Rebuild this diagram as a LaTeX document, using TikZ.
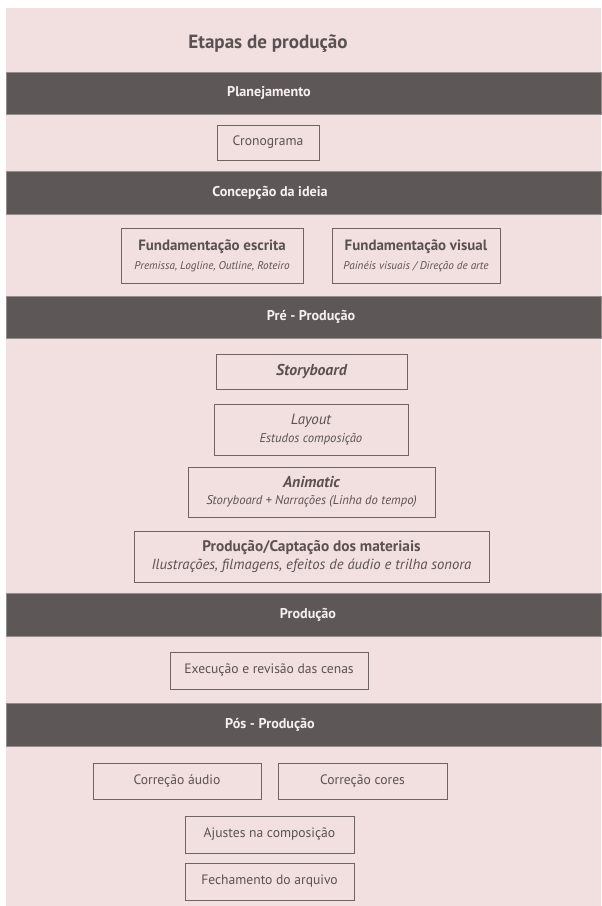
\documentclass[tikz,border=0pt]{standalone}
\usepackage{fontspec}
\setmainfont{PT Sans}
\definecolor{bgpink}{RGB}{242,223,224}
\definecolor{bardark}{RGB}{93,87,87}
\definecolor{baredge}{RGB}{150,140,140}
\definecolor{txtdark}{RGB}{90,82,82}
\definecolor{boxline}{RGB}{110,100,100}
\definecolor{bartxt}{RGB}{248,240,240}
\newcommand{\fsTitle}{\fontsize{14.3}{17}\selectfont}
\newcommand{\fsBar}{\fontsize{10.6}{12}\selectfont}
\newcommand{\fsMain}{\fontsize{10.2}{13}\selectfont}
\newcommand{\fsHead}{\fontsize{11.2}{13}\selectfont}
\newcommand{\fsSub}{\fontsize{8.4}{10}\selectfont}
\newcommand{\fsSubB}{\fontsize{9.5}{11}\selectfont}
\begin{document}
\begin{tikzpicture}[x=0.75pt,y=-0.75pt,
  bar/.style={fill=bardark,draw=baredge,line width=0.5pt,inner sep=0pt,minimum width=595*0.75pt},
  bartext/.style={text=bartxt,font=\fsBar\bfseries,inner sep=0pt},
  box/.style={draw=boxline,line width=0.75pt,fill=bgpink,inner sep=0pt,text=txtdark,align=center},
  ttl/.style={text=txtdark,font=\fsTitle\bfseries,inner sep=0pt}]
\useasboundingbox (0,0) rectangle (601,906);
\fill[white] (0,0) rectangle (601,906);
\fill[bgpink] (6,8) rectangle (601,906);

\node[ttl] (title) at (268,44) {Etapas de produção};

% bars
\node[bar,minimum height=42*0.75pt] (b1) at (303.5,93) {};
\node[bar,minimum height=43*0.75pt] (b2) at (303.5,192.5) {};
\node[bar,minimum height=42*0.75pt] (b3) at (303.5,317) {};
\node[bar,minimum height=43*0.75pt] (b4) at (303.5,614.5) {};
\node[bar,minimum height=43*0.75pt] (b5) at (303.5,724.5) {};
\node[bartext] (t1) at (269,93) {Planejamento};
\node[bartext] (t2) at (270,192.5) {Concepção da ideia};
\node[bartext] (t3) at (311,317) {Pré - Produção};
\node[bartext] (t4) at (308,614.5) {Produção};
\node[bartext] (t5) at (270,724.5) {Pós - Produção};

% boxes
\node[box,minimum width=102*0.75pt,minimum height=35*0.75pt] (crono) at (268,142.5) {\fsMain Cronograma};
\node[box,minimum width=182*0.75pt,minimum height=55*0.75pt] (fe) at (212,255.5)
  {{\fsHead\bfseries Fundamentação escrita}\\[2pt]{\fsSub\itshape Premissa, Logline, Outline, Roteiro}};
\node[box,minimum width=168*0.75pt,minimum height=55*0.75pt] (fv) at (416,255.5)
  {{\fsHead\bfseries Fundamentação visual}\\[2pt]{\fsSub\itshape Painéis visuais / Direção de arte}};
\node[box,minimum width=191*0.75pt,minimum height=35*0.75pt] (sb) at (311.5,371.5)
  {\fontsize{11.8}{13}\selectfont\bfseries\itshape Storyboard};
\node[box,minimum width=194*0.75pt,minimum height=51*0.75pt] (lay) at (311,429.5)
  {{\fsHead\itshape Layout}\\[1pt]{\fsSubB\itshape Estudos composição}};
\node[box,minimum width=247*0.75pt,minimum height=50*0.75pt] (ani) at (311.5,492)
  {{\fontsize{11.8}{13}\selectfont\bfseries\itshape Animatic}\\[1pt]{\fsSubB\itshape Storyboard + Narrações (Linha do tempo)}};
\node[box,minimum width=355*0.75pt,minimum height=51*0.75pt] (cap) at (311.5,556.5)
  {{\fontsize{11.5}{13}\selectfont\bfseries Produção/Captação dos materiais}\\[2pt]{\fontsize{11}{13}\selectfont\itshape Ilustrações, filmagens, efeitos de áudio e trilha sonora}};
\node[box,minimum width=198*0.75pt,minimum height=37*0.75pt] (exe) at (269,670.5) {\fsMain Execução e revisão das cenas};
\node[box,minimum width=168*0.75pt,minimum height=36*0.75pt] (ca) at (177,781) {\fsMain Correção áudio};
\node[box,minimum width=169*0.75pt,minimum height=36*0.75pt] (cc) at (362.5,781) {\fsMain Correção cores};
\node[box,minimum width=169*0.75pt,minimum height=37*0.75pt] (aj) at (269.5,834.5) {\fsMain Ajustes na composição};
\node[box,minimum width=169*0.75pt,minimum height=37*0.75pt] (fa) at (269.5,881.5) {\fsMain Fechamento do arquivo};
\end{tikzpicture}
\end{document}
